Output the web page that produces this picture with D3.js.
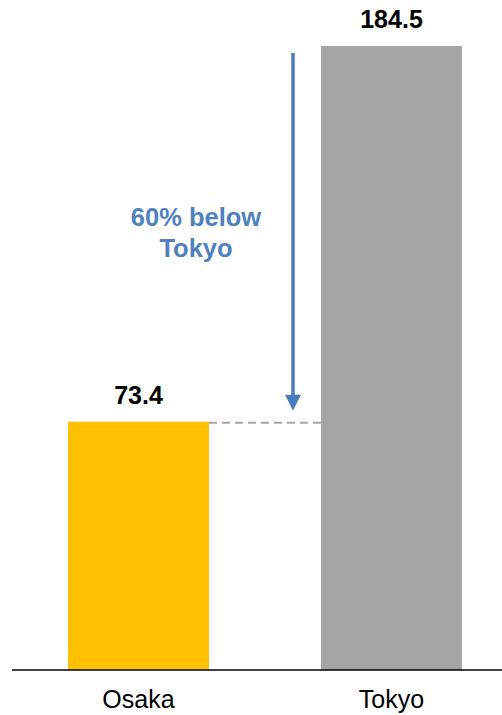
<!DOCTYPE html>
<html><head><meta charset="utf-8">
<script src="https://cdn.jsdelivr.net/npm/d3@7"></script>
<style>body{margin:0;background:#fff}</style></head>
<body><svg id="c" width="502" height="715"></svg>
<script>
const categories = ["Osaka", "Tokyo"];
const values = [73.4, 184.5];
const colors = ["#FFC000", "#A5A5A5"];
const annotation = ["60% below", "Tokyo"];

const svg = d3.select("#c");
const font = "'Liberation Sans', Arial, sans-serif";
const y = d3.scaleLinear().domain([0, 184.5]).range([670, 46]);
const x = d3.scaleBand().domain(categories).range([12, 518]).paddingInner(0.443).paddingOuter(0.2215);

svg.selectAll("rect.bar").data(categories).enter().append("rect")
  .attr("x", d => x(d)).attr("width", x.bandwidth())
  .attr("y", (d,i) => y(values[i])).attr("height", (d,i) => y(0) - y(values[i]))
  .attr("fill", (d,i) => colors[i]);

svg.selectAll("text.val").data(categories).enter().append("text")
  .attr("x", d => x(d) + x.bandwidth()/2).attr("y", (d,i) => y(values[i]) - 18)
  .attr("text-anchor", "middle").attr("font-family", font).attr("font-weight", "bold")
  .attr("font-size", 25).attr("fill", "#000").text((d,i) => values[i].toFixed(1));

svg.append("line").attr("x1", 12).attr("x2", 502).attr("y1", y(0)).attr("y2", y(0))
  .attr("stroke", "#000").attr("stroke-width", 1.5);

svg.selectAll("text.cat").data(categories).enter().append("text")
  .attr("x", d => x(d) + x.bandwidth()/2).attr("y", 708)
  .attr("text-anchor", "middle").attr("font-family", font)
  .attr("font-size", 25).attr("fill", "#000").text(d => d);

// dashed connector
svg.append("line").attr("x1", x("Osaka") + x.bandwidth()).attr("x2", x("Tokyo"))
  .attr("y1", y(values[0]) + 1).attr("y2", y(values[0]) + 1)
  .attr("stroke", "#A6A6A6").attr("stroke-width", 2).attr("stroke-dasharray", "8,5");

// arrow
const ax = 293;
const tipY = y(values[0]) - 11;
svg.append("line").attr("x1", ax).attr("x2", ax).attr("y1", y(values[1]) + 7).attr("y2", tipY - 14)
  .attr("stroke", "#4A7EBB").attr("stroke-width", 3.5);
svg.append("path").attr("d", `M${ax-8},${tipY-16} L${ax+8},${tipY-16} L${ax},${tipY} Z`).attr("fill", "#4A7EBB");

svg.selectAll("text.ann").data(annotation).enter().append("text")
  .attr("x", 196).attr("y", (d,i) => 226 + i*31)
  .attr("text-anchor", "middle").attr("font-family", font).attr("font-weight", "bold")
  .attr("font-size", 25.5).attr("fill", "#4F81BD").text(d => d);
</script></body></html>
